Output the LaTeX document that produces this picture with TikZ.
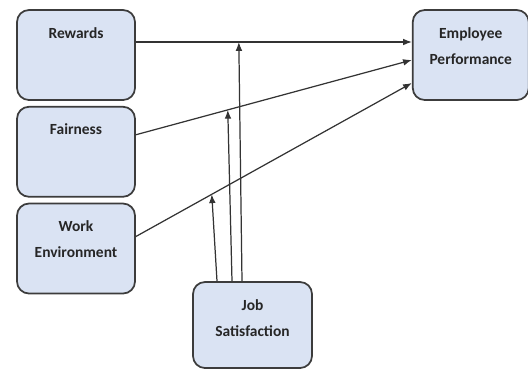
\documentclass[tikz,border=0pt]{standalone}
\usepackage{fontspec}
\setmainfont{Carlito}
\usetikzlibrary{positioning,arrows.meta}
\definecolor{boxfill}{RGB}{218,227,243}
\definecolor{boxline}{RGB}{60,60,60}
\begin{document}
\begin{tikzpicture}[
        node distance=0.1cm,
        % Khung biến
        var/.style={
            rectangle, draw=boxline, fill=boxfill, line width=1pt,
            rounded corners=0.24cm, text width=2.36cm, align=center,
            inner sep=0pt, minimum height=1.8cm,
            text height=0.56cm, text depth=1.24cm, text=black!85,
            font=\fontsize{8.8pt}{14.8pt}\selectfont\bfseries
        },
        % Mũi tên
        arr/.style={-{Latex[length=5pt,width=3.8pt]}, line width=0.7pt, draw=black!80}
    ]
    \useasboundingbox (0,0) rectangle (10.56,-7.38);

    % Biến độc lập
    \node [var] (rew) at (1.52,-1.1) {Rewards};
    \node [var, below=of rew] (fair) {Fairness};
    \node [var, below=of fair] (work) {Work\\Environment};

    % Biến phụ thuộc
    \node [var, text width=2.32cm, right=5.52cm of rew] (perf) {Employee\\Performance};

    % Biến trung gian
    \node [var, text width=2.38cm, minimum height=1.72cm, text depth=1.16cm] (sat) at (5.05,-6.5) {Job\\Satisfaction};

    % Mũi tên nối
    \draw [arr] ([yshift=0.26cm]rew.east) -- coordinate[pos=0.373] (m1) ([yshift=0.26cm]perf.west);
    \draw [arr] ([yshift=0.34cm]fair.east) -- coordinate[pos=0.333] (m2) ([yshift=-0.1cm]perf.west);
    \draw [arr] ([yshift=0.24cm]work.east) -- coordinate[pos=0.275] (m3) ([yshift=-0.56cm]perf.west);

    \draw [arr] ([xshift=-0.21cm]sat.north) -- (m1);
    \draw [arr] ([xshift=-0.41cm]sat.north) -- (m2);
    \draw [arr] ([xshift=-0.71cm]sat.north) -- (m3);

\end{tikzpicture}
\end{document}
